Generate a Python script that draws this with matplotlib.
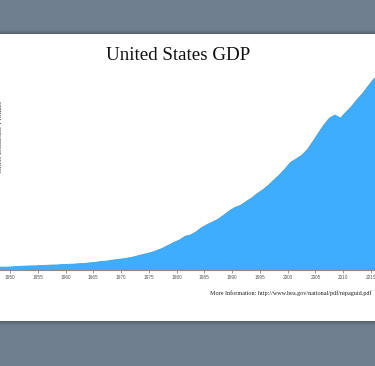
import matplotlib
matplotlib.use("Agg")
import matplotlib.pyplot as plt
from matplotlib.patches import Rectangle

# Annual nominal GDP (billions USD)
years = [1947, 1948, 1949, 1950, 1951, 1952, 1953, 1954, 1955, 1956, 1957, 1958, 1959,
         1960, 1961, 1962, 1963, 1964, 1965, 1966, 1967, 1968, 1969, 1970, 1971, 1972,
         1973, 1974, 1975, 1976, 1977, 1978, 1979, 1980, 1981, 1982, 1983, 1984, 1985,
         1986, 1987, 1988, 1989, 1990, 1991, 1992, 1993, 1994, 1995, 1996, 1997, 1998,
         1999, 2000, 2001, 2002, 2003, 2004, 2005, 2006, 2007, 2008, 2009, 2010, 2011,
         2012, 2013, 2014, 2015, 2016]
gdp = [249.6, 274.5, 272.5, 299.8, 346.9, 367.3, 389.2, 390.5, 425.5, 449.4, 474.0, 481.2,
       521.7, 542.4, 562.2, 603.9, 637.5, 684.5, 742.3, 813.4, 860.0, 940.7, 1017.6, 1073.3,
       1164.9, 1279.1, 1425.4, 1545.2, 1684.9, 1873.4, 2081.8, 2351.6, 2627.3, 2857.3,
       3207.0, 3343.8, 3634.0, 4037.6, 4339.0, 4579.6, 4855.2, 5236.4, 5641.6, 5963.1,
       6158.1, 6520.3, 6858.6, 7287.2, 7639.7, 8073.1, 8577.6, 9062.8, 9631.2, 10251.0,
       10581.9, 10929.1, 11456.4, 12217.2, 13039.2, 13815.6, 14474.2, 14769.9, 14478.1,
       15049.0, 15599.7, 16254.0, 16843.2, 17550.7, 18206.0, 18695.0]
tick_years = list(range(1950, 2020, 5))
title = "United States GDP"
ylabel = "Gross Domestic Product"
footer = "More Information: http://www.bea.gov/national/pdf/nipaguid.pdf"

W, H = 375, 366
fig = plt.figure(figsize=(W / 100, H / 100), dpi=100)
fig.patch.set_facecolor("#6f7e8e")

def px_rect(x0, y0_top, w, h, color, alpha=1.0, z=0):
    fig.add_artist(Rectangle((x0 / W, 1 - (y0_top + h) / H), w / W, h / H,
                             transform=fig.transFigure, facecolor=color,
                             edgecolor="none", alpha=alpha, zorder=z))

# shadows around the card
for i, a in enumerate([0.35, 0.25, 0.15, 0.08]):
    px_rect(0, 34 - (i + 1), W, 1, "#2a3440", alpha=a, z=0)
    px_rect(0, 321 + i, W, 1, "#2a3440", alpha=a, z=0)
# white card
px_rect(0, 34, W, 287, "white", z=1)

# axes: 1950 at x=10px, 5.554 px/year; baseline at y=270px
ppy = 5.554
x_lo, x_hi = 1947, 2016
left_px = 10 - (1950 - x_lo) * ppy
right_px = 10 + (x_hi - 1950) * ppy
ymax = 18700
k = 0.01049
base_px = 270
top_px = base_px - ymax * k
ax = fig.add_axes([left_px / W, 1 - base_px / H, (right_px - left_px) / W,
                   (base_px - top_px) / H])
ax.set_zorder(2)
ax.patch.set_alpha(0)
xs = [y + 0.5 for y in years]
ax.fill_between(xs, gdp, 0, color="#3dadfc", linewidth=0)
ax.plot(xs, gdp, color="#38a8f8", linewidth=0.6)
ax.set_xlim(x_lo, x_hi)
ax.set_ylim(0, ymax)
for s in ["top", "right", "left"]:
    ax.spines[s].set_visible(False)
ax.spines["bottom"].set_color("#8a8a8a")
ax.spines["bottom"].set_linewidth(0.8)
ax.set_yticks([])
ax.set_xticks(tick_years)
ax.set_xticklabels([str(t) for t in tick_years], fontsize=3.4,
                   family="Liberation Sans", color="#555555")
ax.tick_params(axis="x", length=2.5, width=0.6, color="#8a8a8a", pad=1.4)

fig.text(178 / W, 1 - 55 / H, title, ha="center", va="center", fontsize=13.7,
         family="Liberation Serif", color="#111111", zorder=3)
fig.text(0.5 / W, 1 - 137 / H, ylabel, ha="center", va="center", rotation=90,
         fontsize=5.3, family="Liberation Serif", color="#333333", zorder=3)
fig.text(372 / W, 1 - 293 / H, footer, ha="right", va="center", fontsize=4.4,
         family="Liberation Serif", color="#222222", zorder=3)

fig.savefig("out.png", dpi=100, facecolor=fig.get_facecolor())
